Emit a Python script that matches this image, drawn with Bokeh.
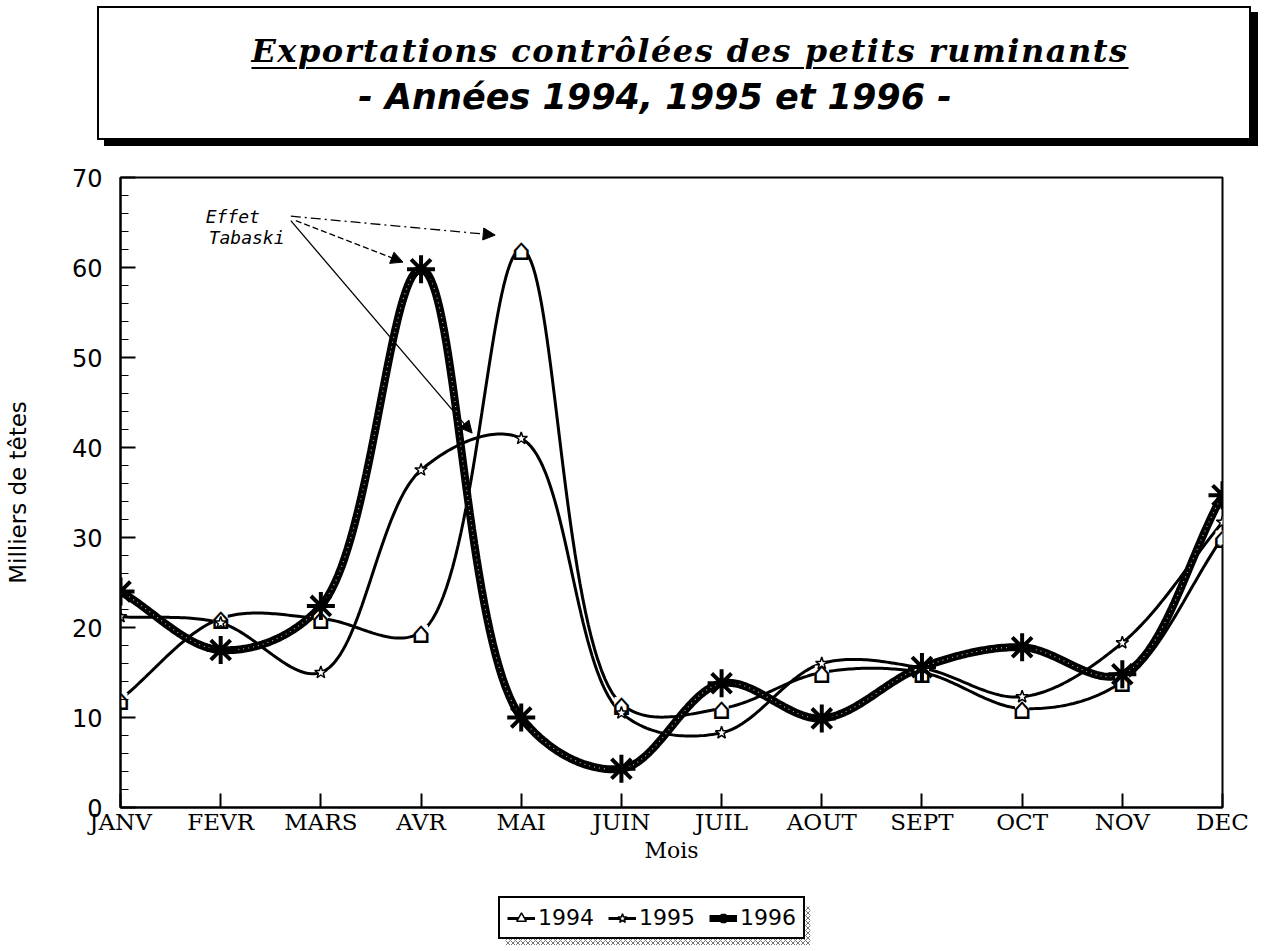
import numpy as np
from bokeh.plotting import figure
from bokeh.models import (Range1d, FixedTicker, Arrow, NormalHead, Legend, LegendItem, Label, Div)
from bokeh.layouts import column
from bokeh.core.properties import value
from bokeh.embed import file_html
from bokeh.resources import INLINE

# ---------------- data ----------------
months = ["JANV", "FEVR", "MARS", "AVR", "MAI", "JUIN", "JUIL", "AOUT", "SEPT", "OCT", "NOV", "DEC"]
v1994 = [12.0, 21.0, 21.0, 19.5, 62.0, 11.5, 11.0, 15.0, 15.0, 11.0, 14.0, 30.0]
v1995 = [21.2, 20.5, 15.0, 37.5, 41.0, 10.5, 8.3, 16.0, 15.5, 12.3, 18.3, 31.7]
v1996 = [24.0, 17.5, 22.4, 59.8, 10.0, 4.3, 13.8, 9.9, 15.6, 17.8, 14.8, 34.7]
series_names = ["1994", "1995", "1996"]
y_ticks = [0, 10, 20, 30, 40, 50, 60, 70]

title_text = "Exportations contrôlées des petits ruminants"
subtitle_text = "- Années 1994, 1995 et 1996 -"
note_lines = ["Effet", "Tabaski"]

x = list(range(len(months)))


def smooth(xv, yv, sx=100.2, sy=9.0, n=40):
    """Centripetal Catmull-Rom curve through the points (computed in screen-like space)."""
    P = np.column_stack([np.asarray(xv, float) * sx, np.asarray(yv, float) * sy])
    P = np.vstack([2 * P[0] - P[1], P, 2 * P[-1] - P[-2]])
    out = []
    for i in range(1, len(P) - 2):
        p0, p1, p2, p3 = P[i - 1], P[i], P[i + 1], P[i + 2]
        d01 = max(np.linalg.norm(p1 - p0) ** 0.5, 1e-6)
        d12 = max(np.linalg.norm(p2 - p1) ** 0.5, 1e-6)
        d23 = max(np.linalg.norm(p3 - p2) ** 0.5, 1e-6)
        m1 = d12 * ((p1 - p0) / d01 - (p2 - p0) / (d01 + d12) + (p2 - p1) / d12)
        m2 = d12 * ((p2 - p1) / d12 - (p3 - p1) / (d12 + d23) + (p3 - p2) / d23)
        t = np.linspace(0, 1, n, endpoint=(i == len(P) - 3))
        h00 = 2 * t**3 - 3 * t**2 + 1
        h10 = t**3 - 2 * t**2 + t
        h01 = -2 * t**3 + 3 * t**2
        h11 = t**3 - t**2
        pts = h00[:, None] * p1 + h10[:, None] * m1 + h01[:, None] * p2 + h11[:, None] * m2
        out.append(pts)
    pts = np.vstack(out)
    return pts[:, 0] / sx, pts[:, 1] / sy


W = 1262
FL, FR = 120, 40  # borders around the plotting frame

# ---------------- title box (HTML) ----------------
title_html = f"""
<div style="position:relative;width:{W}px;height:152px;">
  <div style="position:absolute;left:97px;top:6px;width:1154px;height:134px;
              border:2px solid black;background:white;box-shadow:7px 6px 0 0 black;"></div>
  <div style="position:absolute;left:90px;top:35px;width:1200px;text-align:center;
              font-family:'DejaVu Serif';font-style:italic;font-weight:bold;font-size:32px;
              line-height:1;letter-spacing:1.5px;color:black;
              text-decoration:underline;text-decoration-thickness:2px;text-underline-offset:5px;">{title_text}</div>
  <div style="position:absolute;left:55px;top:80px;width:1200px;text-align:center;
              font-family:'DejaVu Sans';font-style:italic;font-weight:bold;font-size:35px;
              line-height:1;color:black;">{subtitle_text}</div>
</div>
"""
t = Div(text=title_html, width=W, height=152, margin=0)

# ---------------- main chart ----------------
p = figure(frame_width=W - FL - FR, frame_height=630, x_range=Range1d(0, 11), y_range=Range1d(0, 70),
           output_backend="svg", toolbar_location=None,
           min_border_left=FL, min_border_right=FR, min_border_top=25, min_border_bottom=4)
p.grid.visible = False
p.outline_line_color = "black"
p.outline_line_width = 2
p.background_fill_color = "white"

p.xaxis.ticker = FixedTicker(ticks=x)
p.xaxis.major_label_overrides = {i: m for i, m in zip(x, months)}
p.xaxis.major_tick_in = 14
p.xaxis.major_tick_out = 0
p.xaxis.minor_tick_in = 0
p.xaxis.minor_tick_out = 0
p.xaxis.axis_line_width = 2
p.xaxis.major_tick_line_width = 2
p.xaxis.major_label_text_font = "DejaVu Serif"
p.xaxis.major_label_text_font_size = "23px"
p.xaxis.major_label_text_color = "black"
p.xaxis.major_label_standoff = 1
p.xaxis.axis_label = "Mois"
p.xaxis.axis_label_text_font = "DejaVu Serif"
p.xaxis.axis_label_text_font_style = "normal"
p.xaxis.axis_label_text_font_size = "22px"
p.xaxis.axis_label_text_color = "black"
p.xaxis.axis_label_standoff = 0

p.yaxis.ticker = FixedTicker(ticks=y_ticks, minor_ticks=list(range(0, 71, 2)))
p.yaxis.major_tick_in = 15
p.yaxis.major_tick_out = 0
p.yaxis.minor_tick_in = 8
p.yaxis.minor_tick_out = 0
p.yaxis.axis_line_width = 2
p.yaxis.major_tick_line_width = 2
p.yaxis.major_label_text_font = "DejaVu Sans"
p.yaxis.major_label_text_font_size = "24px"
p.yaxis.major_label_text_color = "black"
p.yaxis.major_label_standoff = 18
p.yaxis.axis_label = "Milliers de têtes"
p.yaxis.axis_label_text_font = "DejaVu Sans"
p.yaxis.axis_label_text_font_style = "normal"
p.yaxis.axis_label_text_font_size = "23px"
p.yaxis.axis_label_text_color = "black"
p.yaxis.axis_label_standoff = 38

xs94, ys94 = smooth(x, v1994)
xs95, ys95 = smooth(x, v1995)
xs96, ys96 = smooth(x, v1996)

p.line(xs94, ys94, line_color="black", line_width=3)
p.line(xs95, ys95, line_color="black", line_width=3)
p.line(xs96, ys96, line_color="black", line_width=8)
p.line(xs96, ys96, line_color="white", line_width=1.2, line_dash="1 4", line_alpha=0.7)

p.scatter(x, v1994, marker="square", size=13, fill_color="white", line_color="white")
p.text(x, v1994, text=["\u2302"] * len(x), text_font=value("DejaVu Sans"),
       text_font_size="30px", text_align="center", text_baseline="middle",
       text_color="black")
p.scatter(x, v1995, marker="star", size=13, fill_color="white",
          line_color="black", line_width=1.5)
p.scatter(x, v1996, marker="asterisk", size=28, line_color="black", line_width=4)

# annotation "Effet Tabaski"
p.add_layout(Label(x=0.85, y=65.7, text=note_lines[0], text_font="DejaVu Sans Mono",
                   text_font_style="italic", text_font_size="18px", text_baseline="middle",
                   text_color="black"))
p.add_layout(Label(x=0.88, y=63.3, text=note_lines[1], text_font="DejaVu Sans Mono",
                   text_font_style="italic", text_font_size="18px", text_baseline="middle",
                   text_color="black"))
arrows = [
    (1.70, 65.7, 3.74, 63.6, "10 4 2 4"),
    (1.75, 65.2, 2.82, 60.6, "6 3"),
    (1.70, 65.2, 3.51, 41.6, "solid"),
]
for xs0, ys0, xe, ye, dash in arrows:
    p.add_layout(Arrow(end=NormalHead(size=12, fill_color="black", line_color="black", line_width=1),
                       x_start=xs0, y_start=ys0, x_end=xe, y_end=ye,
                       line_color="black", line_width=1.3, line_dash=dash))

# ---------------- legend strip ----------------
LH = 80
lf = figure(frame_width=W - FL - FR, frame_height=LH, x_range=Range1d(0, W - FL - FR),
            y_range=Range1d(0, LH), x_axis_type=None, y_axis_type=None,
            output_backend="svg", toolbar_location=None,
            min_border_left=FL, min_border_right=FR, min_border_top=0, min_border_bottom=0)
lf.grid.visible = False
lf.outline_line_color = None
# hatched shadow behind the legend box
lf.quad(left=[385], right=[690], bottom=[0], top=[39], fill_color="white",
        line_color=None, hatch_pattern="x", hatch_scale=5, hatch_color="#777777", hatch_weight=1)

# legend proxies (kept outside the visible range of this strip)
off_x, off_y = [-50, -40], [-50, -50]
k94 = [lf.line(off_x, off_y, line_color="black", line_width=3),
       lf.scatter(off_x, off_y, marker="triangle", size=12, fill_color="white",
                  line_color="black", line_width=1.5)]
k95 = [lf.line(off_x, off_y, line_color="black", line_width=3),
       lf.scatter(off_x, off_y, marker="star", size=13, fill_color="white",
                  line_color="black", line_width=1.5)]
k96 = [lf.line(off_x, off_y, line_color="black", line_width=7),
       lf.scatter(off_x, off_y, marker="asterisk", size=20, line_color="black", line_width=3.5)]

legend = Legend(items=[
    LegendItem(label=series_names[0], renderers=k94),
    LegendItem(label=series_names[1], renderers=k95),
    LegendItem(label=series_names[2], renderers=k96),
], orientation="horizontal", location=(378, 6))
legend.label_text_font = "DejaVu Sans"
legend.label_text_font_size = "22px"
legend.label_text_color = "black"
legend.glyph_width = 28
legend.glyph_height = 24
legend.label_standoff = 3
legend.label_height = 24
legend.spacing = 14
legend.padding = 7
legend.margin = 0
legend.border_line_color = "black"
legend.border_line_alpha = 1.0
legend.border_line_width = 2
legend.background_fill_color = "white"
legend.background_fill_alpha = 1.0
lf.add_layout(legend)

layout = column(t, p, lf)
open("out.html", "w").write(file_html(layout, INLINE))
